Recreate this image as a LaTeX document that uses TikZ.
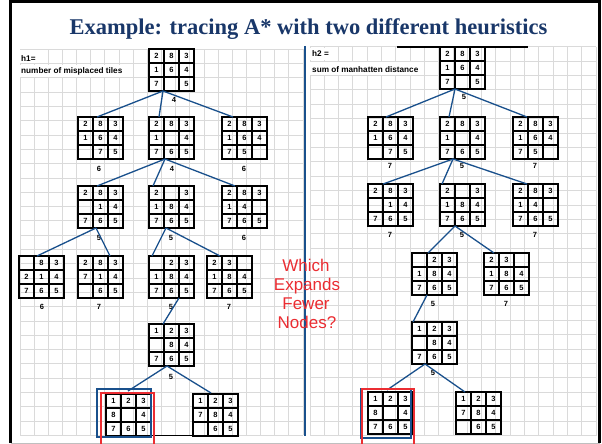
\documentclass[tikz,border=0pt]{standalone}
\usepackage{fontspec}
\setmainfont{Liberation Serif}
\setsansfont{Liberation Sans}
\usetikzlibrary{calc}
\definecolor{titleblue}{RGB}{25,55,105}
\definecolor{linkblue}{RGB}{25,80,140}
\definecolor{gridgray}{RGB}{218,218,218}
\definecolor{hired}{RGB}{235,45,50}
\tikzset{
  gridline/.style={gridgray, line width=0.9pt},
  pzbox/.style={minimum width=45pt, minimum height=42pt, inner sep=0pt, outer sep=0pt, anchor=north west},
  pzcell/.style={draw, line width=2pt, minimum width=15pt, minimum height=14pt, inner sep=0pt,
    font=\sffamily\bfseries\fontsize{7.5}{8}\selectfont},
  lbl/.style={inner sep=0pt, font=\sffamily\bfseries\fontsize{7.5}{8}\selectfont},
  link/.style={linkblue, line width=1.3pt},
  note/.style={inner sep=0pt, anchor=west, font=\sffamily\bfseries\fontsize{8.2}{9}\selectfont},
  ask/.style={inner sep=0pt, anchor=base, text=hired, font=\sffamily\fontsize{17}{19}\selectfont},
  redbox/.style={hired, line width=2pt},
  bluebox/.style={linkblue, line width=2pt}
}
\newcommand{\pz}[4]{%
  \node[pzbox, name=#1] at (#2,#3) {};
  \foreach \v [count=\i from 0] in {#4} {
    \pgfmathtruncatemacro{\pzc}{mod(\i,3)}
    \pgfmathtruncatemacro{\pzr}{int(\i/3)}
    \node[pzcell] at ({#2+\pzc*15+7.5},{#3+\pzr*14+7}) {\v};
  }
}
\begin{document}
\begin{tikzpicture}[x=1pt, y=-1pt]
\useasboundingbox (0,0) rectangle (602,444);
\fill[white] (0,0) rectangle (602,444);
% grids
\foreach \k in {0,...,20} \draw[gridline] ({20+\k*14.15},49.3) -- ({20+\k*14.15},435.4);
\foreach \j in {0,...,27} \draw[gridline] (20,{49.3+\j*14.3}) -- (303,{49.3+\j*14.3});
\foreach \k in {0,...,20} \draw[gridline] ({310+\k*14.3},46.7) -- ({310+\k*14.3},435.5);
\foreach \j in {0,...,27} \draw[gridline] (310,{46.7+\j*14.4}) -- (596,{46.7+\j*14.4});
% white text backgrounds
\fill[white] (19,50.3) rectangle (47,62.6);
\fill[white] (19,64.6) rectangle (127,76.5);
\fill[white] (309,47.7) rectangle (338,60.1);
\fill[white] (309,62.1) rectangle (424,74.5);
% frame
\draw[black, line width=2.5pt] (10.5,443) -- (10.5,1.5) -- (599.5,1.5) -- (599.5,443);
\draw[gray!50, line width=1pt] (10.5,443) -- (599.5,443);
% divider
\draw[linkblue, line width=1.5pt] (305,46) -- (305,436);
% title
\node[inner sep=0pt, anchor=base, text=titleblue, font=\bfseries\fontsize{22.5}{26}\selectfont] (title) at (308.5,35) {Example: tracing A* with two different heuristics};
% notes
\node[note] (h1) at (21,58.2) {h1=};
\node[note] (h1d) at (21,71.5) {number of misplaced tiles};
\node[note] (h2) at (312,53.3) {h2 =};
\node[note] (h2d) at (312,69.3) {sum of manhatten distance};
% question
\node[ask] (q1) at (306,271) {Which};
\node[ask] (q2) at (307,290) {Expands};
\node[ask] (q3) at (306,309) {Fewer};
\node[ask] (q4) at (307,328) {Nodes?};
% extra black lines
\draw[black, line width=2pt] (397,47) -- (528,47);
\draw[black, line width=1.2pt] (152,435.5) -- (193,435.5);
% left tree
\pz{L0}{149}{49}{2,8,3,1,6,4,7,,5}
\pz{L1a}{78}{117}{2,8,3,1,6,4,,7,5}
\pz{L1b}{149}{117}{2,8,3,1,,4,7,6,5}
\pz{L1c}{222}{117}{2,8,3,1,6,4,7,5,}
\pz{L2a}{78}{186}{2,8,3,,1,4,7,6,5}
\pz{L2b}{149}{186}{2,,3,1,8,4,7,6,5}
\pz{L2c}{222}{186}{2,8,3,1,4,,7,6,5}
\pz{L3a}{19}{256}{,8,3,2,1,4,7,6,5}
\pz{L3b}{78}{256}{2,8,3,7,1,4,,6,5}
\pz{L3c}{149}{256}{,2,3,1,8,4,7,6,5}
\pz{L3d}{207}{256}{2,3,,1,8,4,7,6,5}
\pz{L4}{149}{324}{1,2,3,,8,4,7,6,5}
\pz{L5a}{106}{394}{1,2,3,8,,4,7,6,5}
\pz{L5b}{193}{394}{1,2,3,7,8,4,,6,5}
% left labels
\node[lbl] (l0v) at (174,100) {4};
\node[lbl] (l1av) at (99,169) {6};
\node[lbl] (l1bv) at (172,169) {4};
\node[lbl] (l1cv) at (244,169) {6};
\node[lbl] (l2av) at (99,238) {5};
\node[lbl] (l2bv) at (171,238) {5};
\node[lbl] (l2cv) at (244,238) {6};
\node[lbl] (l3av) at (42,307) {6};
\node[lbl] (l3bv) at (99,307) {7};
\node[lbl] (l3cv) at (171,307) {5};
\node[lbl] (l3dv) at (229,307) {7};
\node[lbl] (l4v) at (171,377) {5};
% left connectors
\draw[link] ([xshift=-8.5pt]L0.south) -- ([xshift=-3.5pt]L1a.north);
\draw[link] ([xshift=-8.5pt]L0.south) -- ([xshift=-12.5pt]L1b.north);
\draw[link] ([xshift=-8.5pt]L0.south) -- ([xshift=-11.5pt]L1c.north);
\draw[link] ([xshift=-6.5pt]L1b.south) -- ([xshift=-3.5pt]L2a.north);
\draw[link] ([xshift=-6.5pt]L1b.south) -- ([xshift=-18.5pt]L2b.north);
\draw[link] ([xshift=-6.5pt]L1b.south) -- ([xshift=-9.5pt]L2c.north);
\draw[link] ([xshift=-4.5pt]L2a.south) -- ([xshift=-4.5pt]L3a.north);
\draw[link] ([xshift=-4.5pt]L2a.south) -- ([xshift=9.5pt]L3b.north);
\draw[link] ([xshift=-5.5pt]L2b.south) -- ([xshift=-19.5pt]L3c.north);
\draw[link] ([xshift=-5.5pt]L2b.south) -- ([xshift=-9.5pt]L3d.north);
\draw[link] ([xshift=7.5pt]L3c.south) -- ([xshift=-8.5pt]L4.north);
\draw[link] ([xshift=-4.5pt]L4.south) -- ([xshift=-0.5pt,yshift=3pt]L5a.north);
\draw[link] ([xshift=-4.5pt]L4.south) -- ([xshift=-4.5pt,yshift=1pt]L5b.north);
% right tree
\pz{R0}{440}{47}{2,8,3,1,6,4,7,,5}
\pz{R1a}{368}{117}{2,8,3,1,6,4,,7,5}
\pz{R1b}{440}{117}{2,8,3,1,,4,7,6,5}
\pz{R1c}{513}{117}{2,8,3,1,6,4,7,5,}
\pz{R2a}{368}{184}{2,8,3,,1,4,7,6,5}
\pz{R2b}{440}{184}{2,,3,1,8,4,7,6,5}
\pz{R2c}{513}{184}{2,8,3,1,4,,7,6,5}
\pz{R3a}{412}{253}{,2,3,1,8,4,7,6,5}
\pz{R3b}{484}{253}{2,3,,1,8,4,7,6,5}
\pz{R4}{412}{322}{1,2,3,,8,4,7,6,5}
\pz{R5a}{368}{392}{1,2,3,8,,4,7,6,5}
\pz{R5b}{456}{392}{1,2,3,7,8,4,,6,5}
% right labels
\node[lbl] (r0v) at (464,97) {5};
\node[lbl] (r1av) at (390,166) {7};
\node[lbl] (r1bv) at (462,166) {5};
\node[lbl] (r1cv) at (535,166) {7};
\node[lbl] (r2av) at (390,235) {7};
\node[lbl] (r2bv) at (462,235) {5};
\node[lbl] (r2cv) at (535,235) {7};
\node[lbl] (r3av) at (433,304) {5};
\node[lbl] (r3bv) at (506,304) {7};
\node[lbl] (r4v) at (433,373) {5};
% right connectors
\draw[link] ([xshift=-7.5pt]R0.south) -- ([xshift=-4.5pt]R1a.north);
\draw[link] ([xshift=-7.5pt]R0.south) -- ([xshift=-13.5pt]R1b.north);
\draw[link] ([xshift=-7.5pt]R0.south) -- ([xshift=-8.5pt]R1c.north);
\draw[link] ([xshift=-9.5pt]R1b.south) -- ([xshift=-7.5pt]R2a.north);
\draw[link] ([xshift=-9.5pt]R1b.south) -- ([xshift=-20.5pt]R2b.north);
\draw[link] ([xshift=-9.5pt]R1b.south) -- ([xshift=-8.5pt]R2c.north);
\draw[link] ([xshift=-7.5pt]R2b.south) -- ([xshift=-6.5pt]R3a.north);
\draw[link] ([xshift=-7.5pt]R2b.south) -- ([xshift=-12.5pt]R3b.north);
\draw[link] ([xshift=-7.5pt]R3a.south) -- ([xshift=-21.5pt]R4.north);
\draw[link] ([xshift=-9.5pt]R4.south) -- ([xshift=-3.5pt,yshift=2pt]R5a.north);
\draw[link] ([xshift=-9.5pt]R4.south) -- ([xshift=-13.5pt]R5b.north);
% highlight boxes
\draw[bluebox] (97,389) rectangle (150.5,437);
\draw[redbox] (101,392.5) rectangle (154,452);
\draw[bluebox] (360.5,389) rectangle (411,438);
\draw[redbox] (361.5,389) rectangle (414,452);
\end{tikzpicture}
\end{document}
